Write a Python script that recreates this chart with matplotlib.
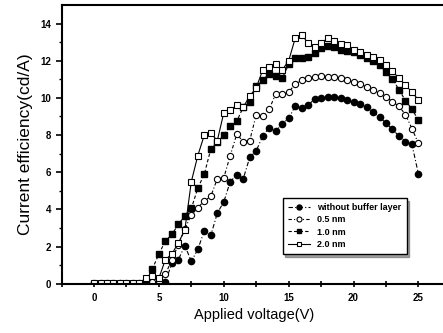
import numpy as np
import matplotlib.pyplot as plt

plt.rcParams['font.family'] = ['Liberation Sans', 'DejaVu Sans']

# applied voltage, 0.5 V steps
voltage = np.arange(0, 25.5, 0.5)

# current efficiency (cd/A)
eff_none = [0.0, 0.0, 0.0, 0.0, 0.0, 0.0, 0.0, 0.0, 0.0, 0.0,
            0.0, 0.1, 1.1, 1.3, 2.05, 1.2, 1.85, 2.85, 2.6, 3.8,
            4.4, 5.5, 5.85, 5.65, 6.8, 7.15, 7.95, 8.4, 8.2, 8.6,
            8.9, 9.55, 9.45, 9.6, 9.95, 10.0, 10.05, 10.05, 10.0, 9.9,
            9.8, 9.65, 9.5, 9.25, 8.95, 8.65, 8.3, 7.95, 7.65, 7.5,
            5.9]
eff_05 = [0.05, 0.05, 0.05, 0.05, 0.05, 0.05, 0.05, 0.05, 0.05, 0.1,
          0.15, 0.5, 1.3, 2.1, 2.95, 3.7, 4.1, 4.45, 4.7, 5.65,
          5.7, 6.9, 8.05, 7.65, 7.7, 9.1, 9.0, 9.4, 10.2, 10.2,
          10.3, 10.75, 10.95, 11.05, 11.1, 11.2, 11.15, 11.1, 11.05, 10.95,
          10.85, 10.75, 10.6, 10.45, 10.25, 10.05, 9.8, 9.55, 9.1, 8.35,
          7.55]
eff_10 = [0.0, 0.0, 0.0, 0.0, 0.0, 0.0, 0.0, 0.0, 0.05, 0.8,
          1.6, 2.3, 2.65, 3.2, 3.65, 4.05, 5.15, 5.9, 7.25, 7.6,
          8.0, 8.5, 8.75, 9.5, 9.8, 10.65, 10.95, 11.3, 11.2, 11.05,
          11.8, 12.15, 12.15, 12.2, 12.4, 12.7, 12.8, 12.75, 12.6, 12.5,
          12.45, 12.3, 12.15, 12.0, 11.75, 11.4, 11.0, 10.45, 9.85, 9.4,
          8.8]
eff_20 = [0.05, 0.05, 0.05, 0.05, 0.05, 0.05, 0.05, 0.05, 0.3, 0.4,
          0.3, 1.3, 1.6, 2.2, 2.9, 5.5, 6.9, 8.0, 8.1, 7.7,
          9.2, 9.35, 9.6, 9.5, 10.1, 10.55, 11.5, 11.65, 11.85, 11.5,
          12.0, 13.2, 13.4, 12.95, 12.75, 12.95, 13.2, 13.05, 12.9, 12.85,
          12.6, 12.45, 12.3, 12.2, 12.05, 11.75, 11.45, 11.05, 10.7, 10.3,
          9.9]

labels = ['without buffer layer', '0.5 nm', '1.0 nm', '2.0 nm']

fig = plt.figure(figsize=(4.43, 3.33), dpi=100)
ax = fig.add_axes([0.139, 0.148, 0.87, 0.837])

ax.plot(voltage, eff_none, color='black', lw=0.8, ls=(0, (4, 2, 1, 2)),
        marker='o', ms=4.5, mfc='black', mec='black', label=labels[0])
ax.plot(voltage, eff_05, color='black', lw=0.8, ls=(0, (3, 2, 1, 2)),
        marker='o', ms=4.5, mfc='white', mec='black', mew=0.8, label=labels[1])
ax.plot(voltage, eff_10, color='black', lw=0.8, ls=(0, (3, 2)),
        marker='s', ms=4.3, mfc='black', mec='black', label=labels[2])
ax.plot(voltage, eff_20, color='black', lw=0.8, ls='-',
        marker='s', ms=4.3, mfc='white', mec='black', mew=0.8, label=labels[3])

ax.set_xlim(-2.3, 27.2)
ax.set_ylim(0, 15)
ax.set_xticks([0, 5, 10, 15, 20, 25])
ax.set_xticks(np.arange(-2.5, 27.5, 2.5), minor=True)
ax.set_yticks(np.arange(0, 15, 2))
ax.set_yticks(np.arange(0, 15, 1), minor=True)
ax.tick_params(axis='x', which='both', direction='inout', length=4, width=1.2, labelsize=7, pad=5)
ax.tick_params(axis='y', which='major', direction='out', length=4, width=1.2, labelsize=7)
ax.tick_params(axis='y', which='minor', direction='out', length=2, width=1)
for lbl in ax.get_xticklabels() + ax.get_yticklabels():
    lbl.set_fontweight('bold')

ax.spines['right'].set_visible(False)
for s in ['left', 'bottom', 'top']:
    ax.spines[s].set_linewidth(1.5)

ax.set_xlabel('Applied voltage(V)', fontsize=10.5, labelpad=3)
ax.set_ylabel('Current efficiency(cd/A)', fontsize=12.5, labelpad=5)

leg = ax.legend(loc='lower left', bbox_to_anchor=(0.562, 0.09),
                prop={'weight': 'bold', 'size': 6.5}, frameon=True, shadow=True,
                fancybox=False, handlelength=2.4, borderpad=0.6, labelspacing=0.35,
                markerscale=0.8, edgecolor='black')
leg.get_frame().set_linewidth(1.0)

fig.savefig('out.png', dpi=100)
